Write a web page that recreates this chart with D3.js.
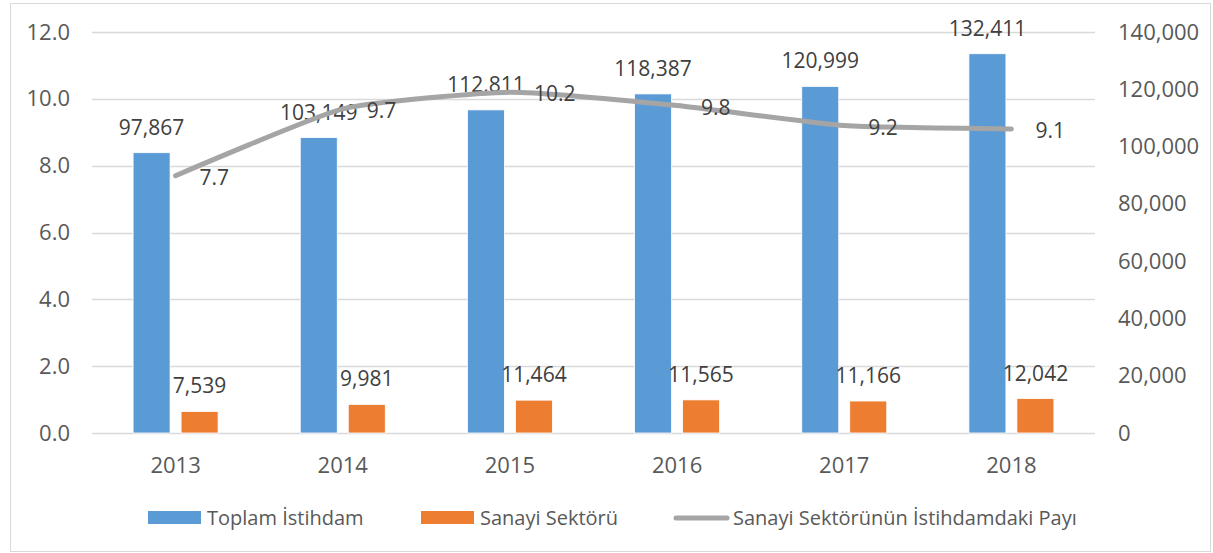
<!DOCTYPE html>
<html>
<head>
<meta charset="utf-8">
<script src="https://cdn.jsdelivr.net/npm/d3@7"></script>
<style>
  body { margin: 0; background: #fff; }
  text { font-family: "Open Sans", Lato, sans-serif; }
</style>
</head>
<body>
<script>
var width = 1213,
    height = 553;

// data
var years = ["2013", "2014", "2015", "2016", "2017", "2018"];
var toplam = [97867, 103149, 112811, 118387, 120999, 132411];
var sanayi = [7539, 9981, 11464, 11565, 11166, 12042];
var pay = [7.7, 9.7, 10.2, 9.8, 9.2, 9.1];
var seriesNames = ["Toplam İstihdam", "Sanayi Sektörü", "Sanayi Sektörünün İstihdamdaki Payı"];
var leftTicks = [0, 2, 4, 6, 8, 10, 12];
var rightTicks = [0, 20000, 40000, 60000, 80000, 100000, 120000, 140000];

var colors = ["#5B9BD5", "#ED7D31", "#A5A5A5"];

var plot = {left: 92, right: 1095, top: 32, bottom: 433};

var svg = d3.select("body")
    .append("svg")
    .attr("width", width)
    .attr("height", height);

// outer frame
svg.append("rect")
    .attr("x", 10.5).attr("y", 3.5)
    .attr("width", 1200).attr("height", 548)
    .style("fill", "none")
    .style("stroke", "#D9D9D9")
    .style("stroke-width", 1);

var x = d3.scaleBand().domain(years).range([plot.left, plot.right]);
var x1 = d3.scaleBand().domain([0, 1]).range([-42.5, 42.5]).paddingInner(0.229);
var yLeft = d3.scaleLinear().domain([0, 12]).range([plot.bottom, plot.top]);
var yRight = d3.scaleLinear().domain([0, 140000]).range([plot.bottom, plot.top]);

// gridlines
svg.append("g").selectAll("line")
    .data(leftTicks)
    .enter().append("line")
        .attr("x1", plot.left).attr("x2", plot.right)
        .attr("y1", function(d) { return Math.round(yLeft(d)) + 0.5; })
        .attr("y2", function(d) { return Math.round(yLeft(d)) + 0.5; })
        .style("stroke", "#D9D9D9")
        .style("stroke-width", 1.3);

// axes
var leftAxis = svg.append("g")
    .attr("transform", "translate(" + (plot.left - 22) + ",0)")
    .call(d3.axisLeft(yLeft).tickValues(leftTicks).tickFormat(d3.format(".1f")).tickSize(0).tickPadding(0));
var rightAxis = svg.append("g")
    .attr("transform", "translate(" + (plot.right + 23) + ",0)")
    .call(d3.axisRight(yRight).tickValues(rightTicks).tickFormat(d3.format(",")).tickSize(0).tickPadding(0));
var bottomAxis = svg.append("g")
    .attr("transform", "translate(0," + (plot.bottom + 32) + ")")
    .call(d3.axisBottom(x).tickSize(0).tickPadding(0));

[leftAxis, rightAxis, bottomAxis].forEach(function(a) {
    a.select(".domain").remove();
    a.selectAll("text")
        .style("font-size", "22px")
        .style("font-family", "'Open Sans', Lato, sans-serif")
        .style("fill", "#595959");
});
bottomAxis.selectAll("text").attr("dy", "0.35em");

// bars
var barData = [];
years.forEach(function(y, i) {
    barData.push({year: y, s: 0, v: toplam[i]});
    barData.push({year: y, s: 1, v: sanayi[i]});
});

svg.append("g").selectAll("rect")
    .data(barData)
    .enter().append("rect")
        .attr("x", function(d) { return x(d.year) + x.bandwidth() / 2 + x1(d.s); })
        .attr("y", function(d) { return yRight(d.v); })
        .attr("width", x1.bandwidth())
        .attr("height", function(d) { return yRight(0) - yRight(d.v); })
        .style("fill", function(d) { return colors[d.s]; })
        .style("stroke", "#fff")
        .style("stroke-width", 0.8);

svg.append("g").selectAll("text")
    .data(barData)
    .enter().append("text")
        .attr("x", function(d) { return x(d.year) + x.bandwidth() / 2 + x1(d.s) + x1.bandwidth() / 2; })
        .attr("y", function(d) { return yRight(d.v) - 18; })
        .attr("text-anchor", "middle")
        .style("font-size", "21px")
        .style("fill", "#404040")
        .text(function(d) { return d3.format(",")(d.v); });

// share line
var lineData = years.map(function(y, i) { return {year: y, v: pay[i]}; });
var line = d3.line()
    .x(function(d) { return x(d.year) + x.bandwidth() / 2; })
    .y(function(d) { return yLeft(d.v); })
    .curve(d3.curveCardinal.tension(0.5));

svg.append("path")
    .datum(lineData)
    .attr("d", line)
    .style("fill", "none")
    .style("stroke", colors[2])
    .style("stroke-width", 5)
    .style("stroke-linecap", "round");

svg.append("g").selectAll("text")
    .data(lineData)
    .enter().append("text")
        .attr("x", function(d) { return x(d.year) + x.bandwidth() / 2 + 24; })
        .attr("y", function(d) { return yLeft(d.v) + 9; })
        .style("font-size", "21px")
        .style("fill", "#404040")
        .text(function(d) { return d3.format(".1f")(d.v); });

// legend
var legendX = [148, 421, 674];
var legend = svg.append("g").selectAll("g")
    .data(seriesNames)
    .enter().append("g")
        .attr("transform", function(d, i) { return "translate(" + legendX[i] + ",518)"; });

legend.each(function(d, i) {
    var g = d3.select(this);
    if (i < 2) {
        g.append("rect")
            .attr("x", 0).attr("y", -7)
            .attr("width", 53).attr("height", 13)
            .style("fill", colors[i]);
    } else {
        g.append("line")
            .attr("x1", 2).attr("x2", 53)
            .attr("y1", 0).attr("y2", 0)
            .style("stroke", colors[i])
            .style("stroke-width", 5)
            .style("stroke-linecap", "round");
    }
    g.append("text")
        .attr("x", 59)
        .attr("dy", "0.35em")
        .style("font-size", "20px")
        .style("fill", "#595959")
        .text(d);
});
</script>
</body>
</html>
